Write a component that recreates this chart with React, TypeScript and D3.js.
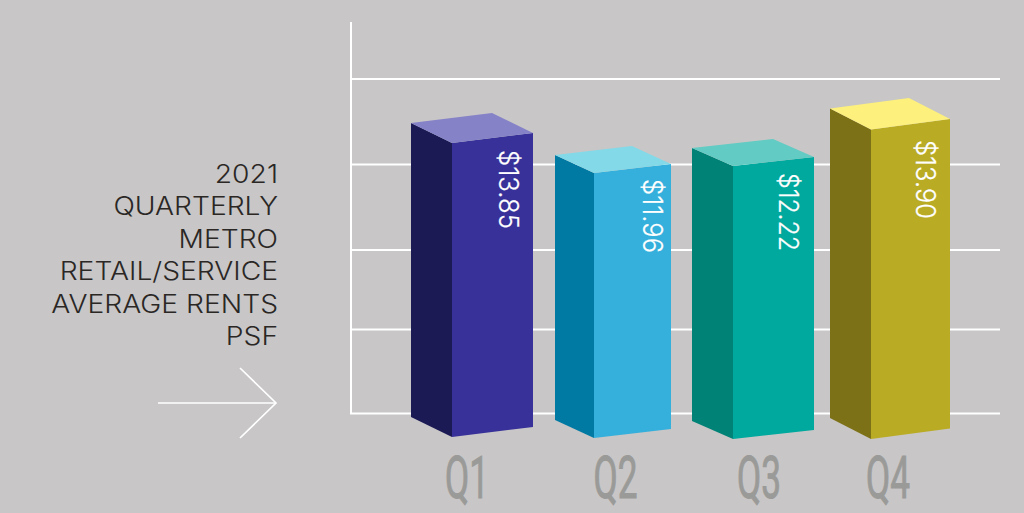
import React from "react";
import * as d3 from "d3";

const quarters = ["Q1", "Q2", "Q3", "Q4"];
const rents = [13.85, 11.96, 12.22, 13.9];
const rentLabels = ["$13.85", "$11.96", "$12.22", "$13.90"];
const titleLines = ["2021", "QUARTERLY", "METRO", "RETAIL/SERVICE", "AVERAGE RENTS", "PSF"];
const gridLevels = [0, 1, 2, 3, 4];

const faceColors = ["#373199", "#35afdb", "#00a99d", "#b9ab24"];
const sideColors = ["#1b1a55", "#0079a3", "#008276", "#7d7118"];
const topColors = ["#8582c8", "#84d9e8", "#62cbc3", "#fdf07c"];

const W = 1024;
const H = 513;

export default function App() {
  // The source graphic's bar heights are not proportional; this piecewise scale follows them.
  const height = d3.scaleLinear().domain([11.96, 12.22, 13.85, 13.9]).range([265, 273, 294, 309.5]);
  const grid = d3.scaleOrdinal<number, number>().domain(gridLevels).range([413.5, 329.5, 250, 164.5, 79]);
  const ord = (r: number[]) => d3.scaleOrdinal<string, number>().domain(quarters).range(r);
  const sideX = ord([411, 555, 692, 830]);
  const frontX = ord([452, 594, 733, 871]);
  const rightX = ord([533, 671, 814, 950]);
  const baseY = ord([437, 438, 439, 439]);
  const dropY = ord([20, 18, 18, 21]);
  const riseY = ord([10, 9, 9, 10.5]);
  const labelX = ord([467, 615.5, 759, 888]);
  const valueX = ord([498.5, 642.5, 779, 915.5]);
  const valueY = ord([150, 179, 173, 140]);
  const valueLen = ord([79, 74, 78, 79]);
  const line = d3.line();

  const sans = "Inter, Lato, 'Open Sans', sans-serif";

  return (
    <svg width={W} height={H} viewBox={`0 0 ${W} ${H}`}
      style={{ position: "absolute", left: 0, top: 0, background: "#c8c6c6" }}>
      {gridLevels.map((g) => (
        <line key={g} x1={350} x2={1000} y1={grid(g)} y2={grid(g)} stroke="#fff" strokeWidth={2} />
      ))}
      <line x1={351} x2={351} y1={22} y2={414} stroke="#fff" strokeWidth={2} />

      {quarters.map((q, i) => {
        const xs = sideX(q), xf = frontX(q), xr = rightX(q), yb = baseY(q);
        const yt = yb - height(rents[i]);
        const rise = riseY(q), drop = dropY(q);
        const sidePts: [number, number][] = [[xs, yt - drop], [xf, yt], [xf, yb], [xs, yb - drop]];
        const facePts: [number, number][] = [[xf, yt], [xr, yt - rise], [xr, yb - rise], [xf, yb]];
        const topPts: [number, number][] = [[xs, yt - drop], [xf, yt], [xr, yt - rise], [xr - (xf - xs), yt - rise - drop]];
        return (
          <g key={q}>
            <path d={line(sidePts) + "Z"} fill={sideColors[i]} />
            <path d={line(facePts) + "Z"} fill={faceColors[i]} />
            <path d={line(topPts) + "Z"} fill={topColors[i]} />
            <text transform={`translate(${valueX(q)},${valueY(q)}) rotate(90)`} fill="#fff"
              stroke="#fff" strokeWidth={0.25}
              fontFamily={sans} fontWeight={300} fontSize={27}
              textLength={valueLen(q)} lengthAdjust="spacingAndGlyphs">{rentLabels[i]}</text>
            <text x={labelX(q)} y={498} textAnchor="middle" fill="#9a9a98"
              stroke="#9a9a98" strokeWidth={1}
              fontFamily="'Liberation Sans Narrow', 'Roboto', sans-serif" fontSize={60}
              textLength={44} lengthAdjust="spacingAndGlyphs">{q}</text>
          </g>
        );
      })}

      {titleLines.map((t, i) => (
        <text key={t} transform={`translate(278,${183 + i * 32.4}) scale(1.13,1)`} textAnchor="end" fill="#2a2725"
          fontFamily={sans} fontWeight={300} fontSize={25}>{t}</text>
      ))}
      <g fill="none" stroke="#fff" strokeWidth={1.7}>
        <path d={line([[158, 403], [276, 403]]) ?? ""} />
        <path d={line([[240, 368], [276, 403], [240, 438]]) ?? ""} />
      </g>
    </svg>
  );
}
